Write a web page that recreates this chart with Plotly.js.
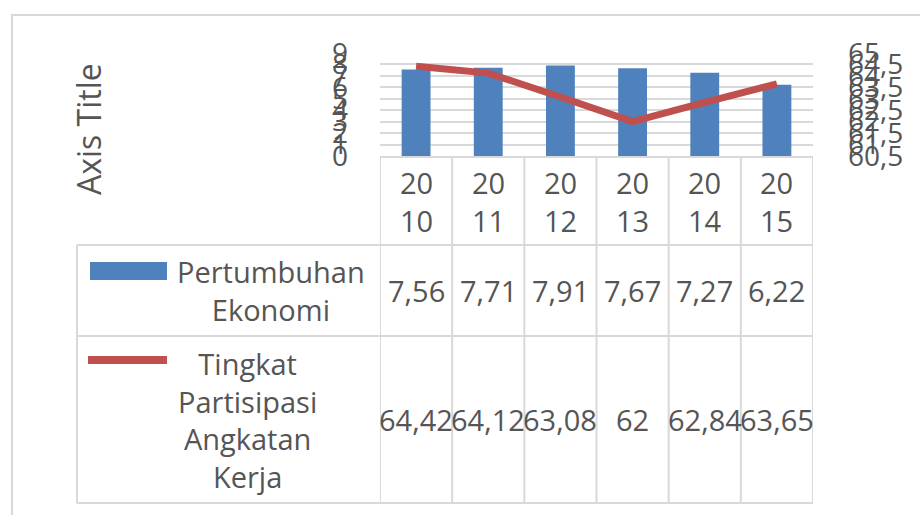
<!DOCTYPE html>
<html>
<head>
<meta charset="utf-8">
<script src="https://cdn.plot.ly/plotly-3.0.1.min.js"></script>
<style>html,body{margin:0;padding:0;background:#fff;}#chart{width:920px;height:515px;}</style>
</head>
<body>
<div id="chart"></div>
<script>
// ---- data ----
var categories = ["2010", "2011", "2012", "2013", "2014", "2015"];
var pertumbuhanEkonomi = [7.56, 7.71, 7.91, 7.67, 7.27, 6.22];
var partisipasiKerja = [64.42, 64.12, 63.08, 62, 62.84, 63.65];
var seriesNames = ["Pertumbuhan<br>Ekonomi", "Tingkat<br>Partisipasi<br>Angkatan<br>Kerja"];
var leftTicks = [0, 1, 2, 3, 4, 5, 6, 7, 8, 9];
var rightTicks = [60.5, 61, 61.5, 62, 62.5, 63, 63.5, 64, 64.5, 65];

// ---- layout geometry (pixels) ----
var W = 920, H = 515;
var L = 380, R = 813, T = 53, B = 156;
function px2x(p) { return (p - L) / (R - L); }
function py2y(p) { return (B - p) / (B - T); }

var FONT = "Open Sans";
var TXT = "#555555";
var GRID = "#d9d9d9";
var FS = 29;

function fmt(v) { return String(v).replace(".", ","); }

var shapes = [];
var annotations = [];

// outer chart border
shapes.push({type: "rect", xref: "paper", yref: "paper",
  x0: px2x(12), x1: px2x(930), y0: py2y(15), y1: py2y(530),
  line: {color: GRID, width: 2}, fillcolor: "rgba(0,0,0,0)", layer: "below"});

// table grid
var tTop = 157, r1 = 245, r2 = 336, tBot = 503, leftX = 77;
for (var i = 0; i <= categories.length; i++) {
  shapes.push({type: "line", xref: "x", yref: "paper", x0: i - 0.5, x1: i - 0.5,
    y0: py2y(tTop), y1: py2y(tBot), line: {color: GRID, width: 2}});
}
shapes.push({type: "line", xref: "paper", yref: "paper", x0: 0, x1: 1, y0: py2y(tTop), y1: py2y(tTop), line: {color: GRID, width: 2}});
[r1, r2, tBot].forEach(function (yy) {
  shapes.push({type: "line", xref: "paper", yref: "paper", x0: px2x(leftX), x1: 1,
    y0: py2y(yy), y1: py2y(yy), line: {color: GRID, width: 2}});
});
shapes.push({type: "line", xref: "paper", yref: "paper", x0: px2x(leftX), x1: px2x(leftX),
  y0: py2y(r1), y1: py2y(tBot), line: {color: GRID, width: 2}});

// legend keys in table
shapes.push({type: "rect", xref: "paper", yref: "paper", x0: px2x(90), x1: px2x(167),
  y0: py2y(262), y1: py2y(280), fillcolor: "#4f81bd", line: {width: 0}});
shapes.push({type: "line", xref: "paper", yref: "paper", x0: px2x(88), x1: px2x(167),
  y0: py2y(360), y1: py2y(360), line: {color: "#c0504d", width: 8}});

// category labels
categories.forEach(function (c, i) {
  annotations.push({xref: "x", yref: "paper", x: i, y: py2y(201), text: c.slice(0, 2) + "<br>" + c.slice(2),
    showarrow: false, font: {family: FONT, size: FS, color: TXT}, xanchor: "center", yanchor: "middle"});
  annotations.push({xref: "x", yref: "paper", x: i, y: py2y(290), text: fmt(pertumbuhanEkonomi[i]),
    showarrow: false, font: {family: FONT, size: FS, color: TXT}, xanchor: "center", yanchor: "middle"});
  annotations.push({xref: "x", yref: "paper", x: i, y: py2y(419), text: fmt(partisipasiKerja[i]),
    showarrow: false, font: {family: FONT, size: FS, color: TXT}, xanchor: "center", yanchor: "middle"});
});

// series names
annotations.push({xref: "paper", yref: "paper", x: px2x(271), y: py2y(290), text: seriesNames[0],
  showarrow: false, font: {family: FONT, size: FS, color: TXT}, xanchor: "center", yanchor: "middle", align: "center"});
annotations.push({xref: "paper", yref: "paper", x: px2x(247), y: py2y(420), text: seriesNames[1],
  showarrow: false, font: {family: FONT, size: FS, color: TXT}, xanchor: "center", yanchor: "middle", align: "center"});

// axis title
annotations.push({xref: "paper", yref: "paper", x: px2x(88), y: py2y(129), text: "Axis Title",
  textangle: -90, showarrow: false, font: {family: FONT, size: 32, color: TXT}, xanchor: "center", yanchor: "middle"});

var data = [
  {type: "bar", x: categories, y: pertumbuhanEkonomi, name: "Pertumbuhan Ekonomi",
   marker: {color: "#4f81bd"}, yaxis: "y"},
  {type: "scatter", mode: "lines", x: categories, y: partisipasiKerja, name: "Tingkat Partisipasi Angkatan Kerja",
   line: {color: "#c0504d", width: 7}, yaxis: "y2"}
];

var layout = {
  width: W, height: H,
  margin: {l: L, r: W - R, t: T, b: H - B, pad: 0},
  paper_bgcolor: "#ffffff", plot_bgcolor: "#ffffff",
  separators: ",.",
  showlegend: false,
  bargap: 0.6,
  font: {family: FONT, size: FS, color: TXT},
  xaxis: {type: "category", showticklabels: false, showgrid: false, zeroline: false,
    showline: false, ticks: "", range: [-0.5, categories.length - 0.5]},
  yaxis: {range: [0, 9], tickvals: leftTicks, showgrid: true, gridcolor: GRID, gridwidth: 2,
    zeroline: false, showline: false, ticks: "", ticklabelstandoff: 31,
    tickfont: {family: FONT, size: FS - 1, color: TXT}},
  yaxis2: {range: [60.5, 65], tickvals: rightTicks, overlaying: "y", side: "right",
    showgrid: false, zeroline: false, showline: false, ticks: "", ticklabelstandoff: 34,
    tickfont: {family: FONT, size: FS - 1, color: TXT}},
  shapes: shapes,
  annotations: annotations
};

Plotly.newPlot("chart", data, layout, {staticPlot: true, displayModeBar: false});
</script>
</body>
</html>
